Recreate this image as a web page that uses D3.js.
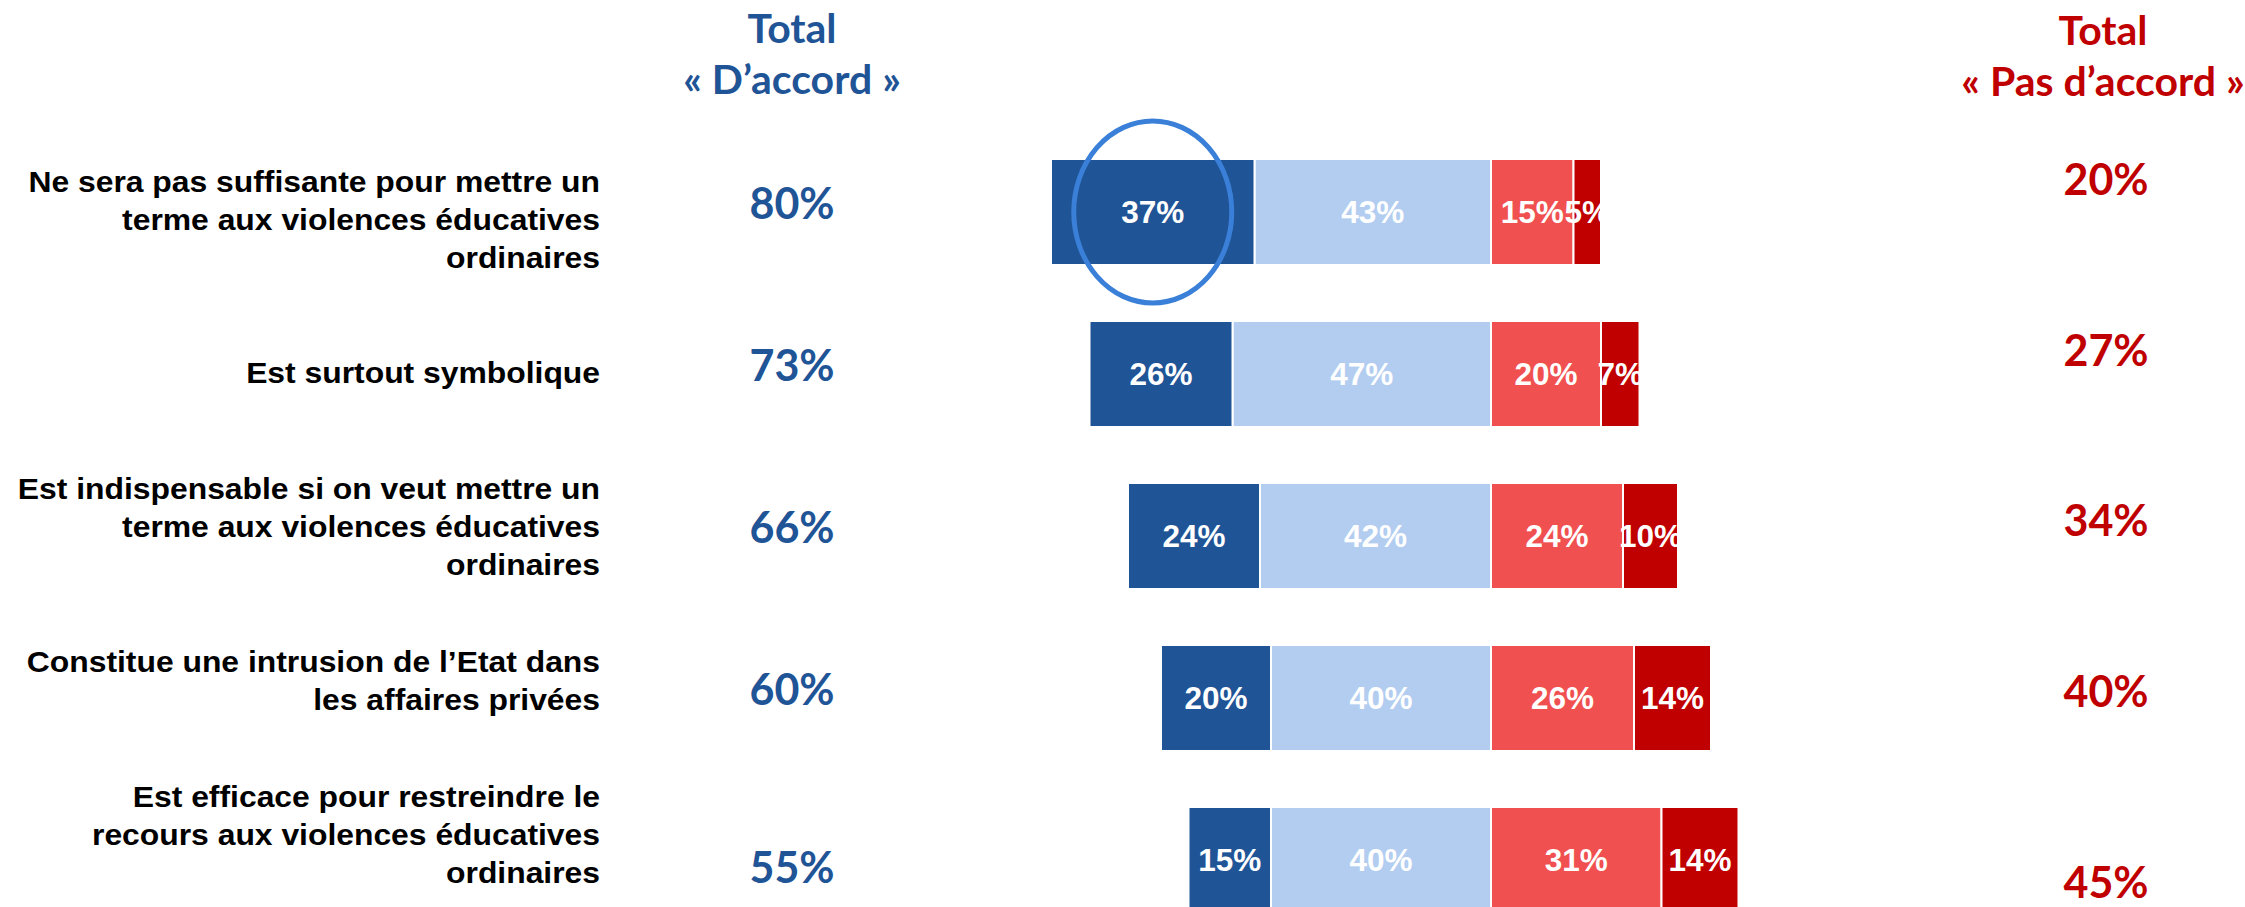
<!DOCTYPE html>
<html>
<head>
<meta charset="utf-8">
<script src="https://cdn.jsdelivr.net/npm/d3@7"></script>
<style>
  body { margin: 0; background: #fff; }
  svg { display: block; }
</style>
</head>
<body>
<svg id="chart" width="2245" height="907"></svg>
<script>
// statements (one line per array entry, as wrapped in the original)
const statements = [
    ["Ne sera pas suffisante pour mettre un", "terme aux violences éducatives", "ordinaires"],
    ["Est surtout symbolique"],
    ["Est indispensable si on veut mettre un", "terme aux violences éducatives", "ordinaires"],
    ["Constitue une intrusion de l\u2019Etat dans", "les affaires privées"],
    ["Est efficace pour restreindre le", "recours aux violences éducatives", "ordinaires"]
];
const toutAFait = [37, 26, 24, 20, 15];   // Tout à fait d'accord
const plutot = [43, 47, 42, 40, 40];      // Plutôt d'accord
const plutotPas = [15, 20, 24, 26, 31];   // Plutôt pas d'accord
const pasDuTout = [5, 7, 10, 14, 14];     // Pas du tout d'accord
const totalAccord = [80, 73, 66, 60, 55];
const totalPasAccord = [20, 27, 34, 40, 45];
const headerAccord = ["Total", "\u00ab D\u2019accord \u00bb"];
const headerPasAccord = ["Total", "\u00ab Pas d\u2019accord \u00bb"];

const svg = d3.select("#chart");
const blue = "#1f5496", lightBlue = "#b2cdf0", red = "#f15050", darkRed = "#c00000";
const barFont = "'Liberation Sans', Arial, sans-serif";
const totalFont = "Lato, 'Open Sans', sans-serif";
const n = statements.length;

// table for the stack: agree values negative so they go left of zero
const rows = statements.map((s, i) => ({
    i: i,
    plutot: -plutot[i],
    toutAFait: -toutAFait[i],
    plutotPas: plutotPas[i],
    pasDuTout: pasDuTout[i]
}));
const keys = ["plutot", "toutAFait", "plutotPas", "pasDuTout"];
const colors = { toutAFait: blue, plutot: lightBlue, plutotPas: red, pasDuTout: darkRed };

const series = d3.stack()
    .keys(keys)
    .offset(d3.stackOffsetDiverging)(rows);

const x = d3.scaleLinear()
    .domain([-100, 100])
    .range([941, 2041]);

const y = d3.scaleBand()
    .domain(d3.range(n))
    .range([131, 941])
    .paddingInner(0.3457)
    .paddingOuter(0.1728);

// clip each row's labels to the extent of its bar
const defs = svg.append("defs");
rows.forEach(r => {
    const x0 = x(-(toutAFait[r.i] + plutot[r.i]));
    defs.append("clipPath")
        .attr("id", "clip" + r.i)
        .append("rect")
        .attr("x", x0 - 10)
        .attr("y", y(r.i))
        .attr("width", x(plutotPas[r.i] + pasDuTout[r.i]) - x0 + 10)
        .attr("height", y.bandwidth());
});

// bars
const groups = svg.selectAll("g.serie")
    .data(series)
    .enter()
    .append("g")
    .attr("class", "serie")
    .attr("fill", d => colors[d.key]);

groups.selectAll("rect")
    .data(d => d)
    .enter()
    .append("rect")
    .attr("x", d => x(Math.min(d[0], d[1])))
    .attr("y", d => y(d.data.i))
    .attr("width", d => Math.abs(x(d[1]) - x(d[0])))
    .attr("height", y.bandwidth())
    .attr("stroke", "#fff")
    .attr("stroke-width", 2);

// value labels inside the segments
const labelGroups = svg.selectAll("g.lab")
    .data(series)
    .enter()
    .append("g")
    .attr("class", "lab");

labelGroups.selectAll("text")
    .data(d => d)
    .enter()
    .append("text")
    .attr("clip-path", d => `url(#clip${d.data.i})`)
    .attr("x", d => x((d[0] + d[1]) / 2))
    .attr("y", d => y(d.data.i) + y.bandwidth() / 2)
    .attr("dy", "0.36em")
    .attr("text-anchor", "middle")
    .attr("fill", "#fff")
    .style("font-family", barFont)
    .style("font-weight", "bold")
    .style("font-size", "31.5px")
    .text(d => Math.abs(d[1] - d[0]) + "%");

// highlight ellipse around the first dark blue segment
svg.append("ellipse")
    .attr("cx", x(-(plutot[0] + toutAFait[0] / 2)))
    .attr("cy", y(0) + y.bandwidth() / 2)
    .attr("rx", 79)
    .attr("ry", 91)
    .attr("fill", "none")
    .attr("stroke", "#3a7fd8")
    .attr("stroke-width", 5);

// statement labels on the left (text boxes slightly tighter than the bars,
// text a bit wider than plain Arial in the original)
const lineH = 38;
const stretch = 1.08;
const yStmt = d3.scalePoint().domain(d3.range(n)).range([219, 834]);
const stmt = svg.selectAll("text.stmt")
    .data(statements)
    .enter()
    .append("text")
    .attr("class", "stmt")
    .attr("text-anchor", "end")
    .attr("fill", "#000")
    .style("font-family", barFont)
    .style("font-weight", "bold")
    .style("font-size", "29.5px")
    .attr("transform", (d, i) => `translate(600, ${yStmt(i) - (d.length - 1) * lineH / 2}) scale(${stretch}, 1)`);

stmt.selectAll("tspan")
    .data(d => d)
    .enter()
    .append("tspan")
    .attr("x", 0)
    .attr("y", (d, j) => j * lineH)
    .attr("dy", "0.36em")
    .text(d => d);

// columns of totals (last text box sits a little lower in the original)
const lastNudgeLeft = 16, lastNudgeRight = 21;
const yLeft = i => y(i) + y.bandwidth() / 2 - 8 + (i === n - 1 ? lastNudgeLeft : 0);
const yRight = i => 180 + i * 170.5 + (i === n - 1 ? lastNudgeRight : 0);

svg.selectAll("text.totA")
    .data(totalAccord)
    .enter()
    .append("text")
    .attr("class", "totA")
    .attr("x", 792)
    .attr("y", (d, i) => yLeft(i))
    .attr("dy", "0.36em")
    .attr("text-anchor", "middle")
    .attr("fill", blue)
    .style("font-family", totalFont)
    .style("font-weight", "bold")
    .style("font-size", "43px")
    .text(d => d + "%");

svg.selectAll("text.totP")
    .data(totalPasAccord)
    .enter()
    .append("text")
    .attr("class", "totP")
    .attr("x", 2106)
    .attr("y", (d, i) => yRight(i))
    .attr("dy", "0.36em")
    .attr("text-anchor", "middle")
    .attr("fill", darkRed)
    .style("font-family", totalFont)
    .style("font-weight", "bold")
    .style("font-size", "43px")
    .text(d => d + "%");

// column headers
svg.selectAll("text.hA")
    .data(headerAccord)
    .enter()
    .append("text")
    .attr("class", "hA")
    .attr("x", 792)
    .attr("y", (d, i) => 43 + i * 51)
    .attr("text-anchor", "middle")
    .attr("fill", blue)
    .style("font-family", totalFont)
    .style("font-weight", "bold")
    .style("font-size", "41px")
    .text(d => d);

svg.selectAll("text.hP")
    .data(headerPasAccord)
    .enter()
    .append("text")
    .attr("class", "hP")
    .attr("x", 2103)
    .attr("y", (d, i) => 45 + i * 51)
    .attr("text-anchor", "middle")
    .attr("fill", darkRed)
    .style("font-family", totalFont)
    .style("font-weight", "bold")
    .style("font-size", "41px")
    .text(d => d);
</script>
</body>
</html>
